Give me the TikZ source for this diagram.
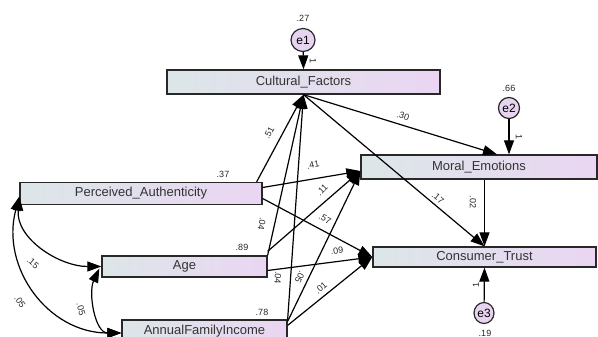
\documentclass[tikz,border=0pt]{standalone}
\usepackage{fontspec}
\setmainfont{Liberation Sans}
\usetikzlibrary{arrows.meta,shapes.geometric}

\definecolor{boxleft}{RGB}{220,230,232}
\definecolor{boxright}{RGB}{234,214,242}
\definecolor{errfill}{RGB}{230,212,240}
\definecolor{edgegray}{RGB}{40,40,40}

\begin{document}
\begin{tikzpicture}[x=1pt,y=-1pt,
  var/.style={draw=edgegray,line width=1.3pt,left color=boxleft,right color=boxright,inner sep=0pt,
    font=\fontsize{13}{15}\selectfont,text=black!80},
  err/.style={ellipse,draw=edgegray,line width=1.2pt,fill=errfill,inner sep=0pt,font=\fontsize{12}{14}\selectfont},
  est/.style={font=\fontsize{9}{10}\selectfont,text=black!85,inner sep=0pt},
  path/.style={line width=1.2pt,-{Triangle[length=14pt,width=10pt]}},
  cov/.style={line width=1.2pt,{Triangle[length=14pt,width=10pt]}-{Triangle[length=14pt,width=10pt]}}
]
\useasboundingbox (0,0) rectangle (598,337);

% Observed variables
\node[var,minimum width=273pt,minimum height=24pt] (cf) at (303.5,82) {Cultural\_Factors};
\node[var,minimum width=236pt,minimum height=24pt] (me) at (479,167) {Moral\_Emotions};
\node[var,minimum width=242pt,minimum height=22pt] (pa) at (141,193.5) {Perceived\_Authenticity};
\node[var,minimum width=165pt,minimum height=21pt] (age) at (184.5,266.5) {Age};
\node[var,minimum width=223pt,minimum height=20pt] (ct) at (484.5,257) {Consumer\_Trust};
\node[var,minimum width=165pt,minimum height=22pt] (afi) at (204.5,331) {AnnualFamilyIncome};

% Error terms
\node[err,minimum width=24pt,minimum height=23pt] (e1) at (303,40) {e1};
\node[err,minimum width=21pt,minimum height=21pt] (e2) at (509,108) {e2};
\node[err,minimum width=20pt,minimum height=21pt] (e3) at (484,313) {e3};

% Regression paths
\draw[path] (e1) -- (cf.north);
\draw[path] (e2) -- (e2 |- me.north);
\draw[path] (e3) -- (ct.south);
\draw[path] ([xshift=-6pt]pa.north east) -- (cf.south);
\draw[path] (age.north east) -- (cf.south);
\draw[path] (afi.north east) -- (cf.south);
\draw[path] ([yshift=6pt]pa.east) -- ([yshift=-4pt]me.west);
\draw[path] ([yshift=4pt]age.north east) -- ([yshift=-4pt]me.west);
\draw[path] ([yshift=-2pt]afi.north east) -- ([yshift=-4pt]me.west);
\draw[path] (cf.south) -- ([xshift=18pt]me.north);
\draw[path] (cf.south) -- (ct.north);
\draw[path] (ct.north |- me.south) -- (ct.north);
\draw[path] ([yshift=-5pt]pa.east) -- (ct.west);
\draw[path] ([yshift=-4pt]age.east) -- (ct.west);
\draw[path] ([yshift=-6pt]afi.north east) -- (ct.west);

% Covariances
\draw[cov] ([yshift=-3pt]pa.west) to[out=-95,in=180] (age.west);
\draw[cov] ([yshift=-3pt]pa.west) to[out=-105,in=180,looseness=1.1] ([yshift=-2pt]afi.west);
\draw[cov] ([yshift=-2pt,xshift=-2pt]age.west) to[out=-115,in=180] ([yshift=-2pt]afi.west);

% Estimates
\node[est] (v1) at (303,18) {.27};
\node[est] (v2) at (509,88) {.66};
\node[est] (v3) at (485,333) {.19};
\node[est] (v4) at (223,174) {.37};
\node[est] (v5) at (242,247) {.89};
\node[est] (v6) at (262,312) {.78};
\node[est,rotate=-90] (w1) at (313,61) {1};
\node[est,rotate=-90] (w2) at (519,137) {1};
\node[est,rotate=90] (w3) at (476,285) {1};
\node[est,rotate=62] (b1) at (269,133) {.51};
\node[est,rotate=-100] (b2) at (262,224) {.04};
\node[est,rotate=-95] (b3) at (278,278) {.04};
\node[est,rotate=11] (b4) at (313,165) {.41};
\node[est,rotate=45] (b5) at (322,190) {.11};
\node[est,rotate=-115] (b6) at (300,277) {.05};
\node[est,rotate=-17] (b7) at (403,116) {.30};
\node[est,rotate=-40] (b8) at (438,198) {.17};
\node[est,rotate=-90] (b9) at (473,202) {.02};
\node[est,rotate=-28] (b10) at (325,219) {.57};
\node[est,rotate=7] (b11) at (337,251) {.09};
\node[est,rotate=40] (b12) at (321,288) {.01};
\node[est,rotate=-40] (c1) at (33,263) {.15};
\node[est,rotate=-55] (c2) at (20,302) {.05};
\node[est,rotate=-75] (c3) at (81,309) {.05};
\end{tikzpicture}
\end{document}
